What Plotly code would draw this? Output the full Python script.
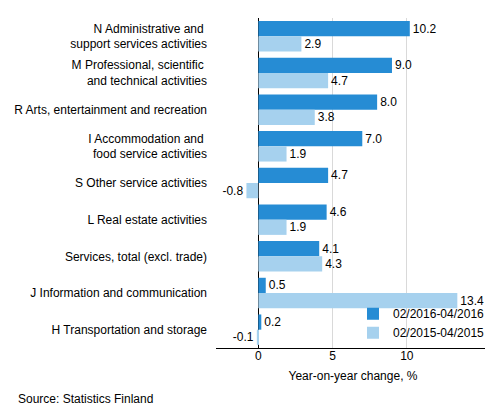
import plotly.graph_objects as go

categories = [
    "N Administrative and <br>support services activities",
    "M Professional, scientific <br>and technical activities",
    "R Arts, entertainment and recreation",
    "I Accommodation and <br>food service activities",
    "S Other service activities",
    "L Real estate activities",
    "Services, total (excl. trade)",
    "J Information and communication",
    "H Transportation and storage",
]
period_2016 = [10.2, 9.0, 8.0, 7.0, 4.7, 4.6, 4.1, 0.5, 0.2]
period_2015 = [2.9, 4.7, 3.8, 1.9, -0.8, 1.9, 4.3, 13.4, -0.1]
series_names = ["02/2016-04/2016", "02/2015-04/2015"]
series_colors = ["#268cd4", "#a6d1ee"]
x_ticks = [0, 5, 10]

font = dict(family="Liberation Sans, Arial, sans-serif", size=12, color="#000000")

fig = go.Figure()
for name, vals, col in zip(series_names, [period_2016, period_2015], series_colors):
    fig.add_trace(go.Bar(
        y=categories, x=vals, name=name, orientation="h",
        marker=dict(color=col, line=dict(width=0)),
        text=[f"{v:.1f}" for v in vals], textposition="outside",
        textfont=font, cliponaxis=False,
    ))

fig.update_layout(
    width=493, height=416,
    margin=dict(l=208, r=11, t=10, b=76),
    paper_bgcolor="white", plot_bgcolor="white",
    font=font,
    barmode="group", bargap=0.17, bargroupgap=0,
    legend=dict(x=0.5, y=0.148, xanchor="left", yanchor="top",
                bgcolor="rgba(0,0,0,0)", font=font,
                itemwidth=30, tracegroupgap=0),
    showlegend=True,
    annotations=[dict(text="Source: Statistics Finland", xref="paper", yref="paper",
                      x=-0.73, y=-0.128, xanchor="left", yanchor="top",
                      showarrow=False, font=font)],
)
fig.update_xaxes(
    range=[-2.85, 15.6], tickvals=x_ticks, automargin=False,
    showgrid=True, gridcolor="#d9d9d9", gridwidth=1,
    zeroline=True, zerolinecolor="#000000", zerolinewidth=1,
    showline=True, linecolor="#000000", linewidth=1,
    ticks="", tickfont=font, ticklabelstandoff=-3,
    title=dict(text="Year-on-year change, %", font=font, standoff=9),
)
fig.update_yaxes(
    categoryorder="array", categoryarray=categories, autorange="reversed",
    showgrid=False, zeroline=False, showline=False, automargin=False,
    ticks="", ticklabelstandoff=8, tickfont=font,
)

fig.write_html("out.html")
